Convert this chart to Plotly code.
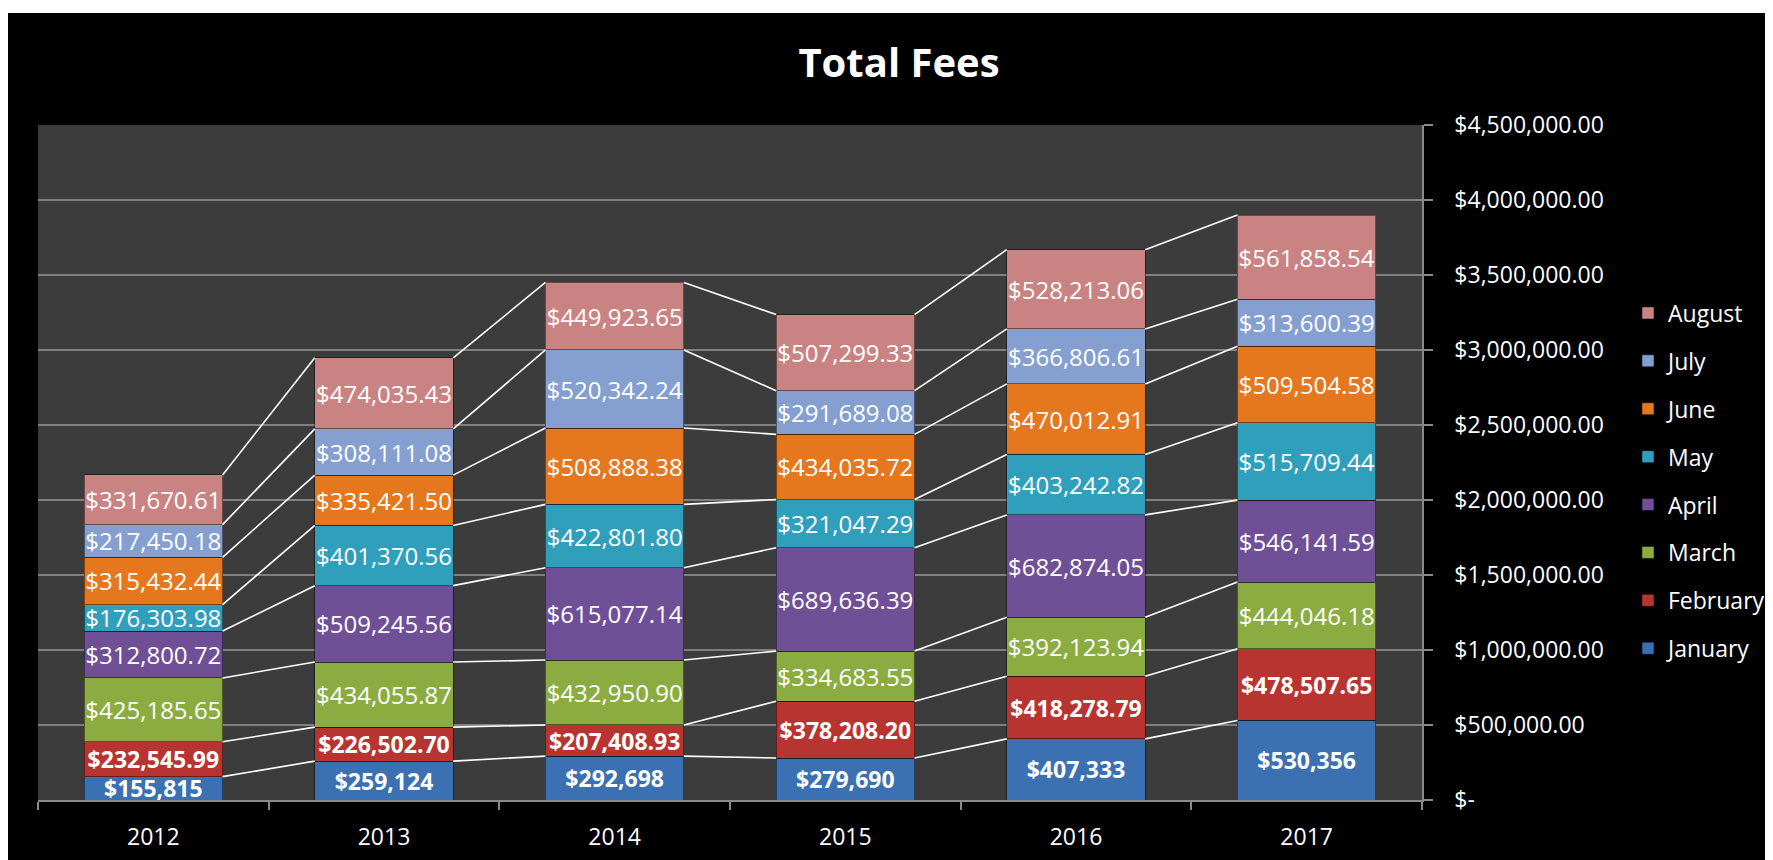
import plotly.graph_objects as go

years = ["2012", "2013", "2014", "2015", "2016", "2017"]
months = ["January", "February", "March", "April", "May", "June", "July", "August"]

january = [155815, 259124, 292698, 279690, 407333, 530356]
february = [232545.99, 226502.70, 207408.93, 378208.20, 418278.79, 478507.65]
march = [425185.65, 434055.87, 432950.90, 334683.55, 392123.94, 444046.18]
april = [312800.72, 509245.56, 615077.14, 689636.39, 682874.05, 546141.59]
may = [176303.98, 401370.56, 422801.80, 321047.29, 403242.82, 515709.44]
june = [315432.44, 335421.50, 508888.38, 434035.72, 470012.91, 509504.58]
july = [217450.18, 308111.08, 520342.24, 291689.08, 366806.61, 313600.39]
august = [331670.61, 474035.43, 449923.65, 507299.33, 528213.06, 561858.54]

series = [january, february, march, april, may, june, july, august]
colors = ["#3b70b2", "#b83431", "#8bac40", "#6f5097", "#2f9fbb", "#e5781f", "#849fd0", "#c98382"]

y_tickvals = [0, 500000, 1000000, 1500000, 2000000, 2500000, 3000000, 3500000, 4000000, 4500000]
y_ticktext = ["$-" if v == 0 else "${:,.2f}".format(v) for v in y_tickvals]

W, H = 1773, 860
# figure coordinates (page has an 8px body margin)
L, R, T, B = 30, 1773 - 1415, 117, 860 - 792
pw, ph = W - L - R, H - T - B

FONT = "Open Sans"
xs = list(range(len(years)))
bar_w = 0.6

fig = go.Figure()

n = len(months)
for k, (name, vals, col) in enumerate(zip(months, series, colors)):
    if k == 0:
        txt = ["${:,.0f}".format(v) for v in vals]
    else:
        txt = ["${:,.2f}".format(v) for v in vals]
    bold = k <= 1
    fig.add_trace(go.Bar(
        x=xs, y=vals, name=name, width=bar_w,
        marker=dict(color=col, line=dict(color="rgba(0,0,0,0.45)", width=1)),
        text=txt, textposition="inside", insidetextanchor="middle",
        constraintext="none",
        textfont=dict(family=FONT, size=24 if not bold else 23, color="white",
                      weight="bold" if bold else "normal"),
        legendgroup=name, legendrank=n - k,
        hoverinfo="skip",
    ))

# series lines connecting the tops of each segment
cum = [0.0] * len(years)
lx, ly = [], []
for vals in series:
    cum = [c + v for c, v in zip(cum, vals)]
    for i in range(len(years) - 1):
        lx += [xs[i] + bar_w / 2, xs[i + 1] - bar_w / 2, None]
        ly += [cum[i], cum[i + 1], None]
fig.add_trace(go.Scatter(x=lx, y=ly, mode="lines", line=dict(color="white", width=1.6),
                         showlegend=False, hoverinfo="skip"))

fig.update_layout(
    width=W, height=H,
    margin=dict(l=L, r=R, t=T, b=B),
    paper_bgcolor="black",
    plot_bgcolor="#3c3c3c",
    barmode="stack",
    title=dict(text="<b>Total Fees</b>", x=891 / W, xanchor="center", y=1 - 55 / H, yanchor="middle",
               font=dict(family=FONT, size=40, color="white")),
    legend=dict(
        x=1 + (1620 - 1415) / pw, xanchor="left",
        y=(792 - 473) / ph, yanchor="middle",
        traceorder="grouped", tracegroupgap=15,
        font=dict(family=FONT, size=23, color="white"),
        bgcolor="rgba(0,0,0,0)",
    ),
    xaxis=dict(
        range=[-0.5, len(years) - 0.5],
        tickmode="array", tickvals=xs, ticktext=years, ticks="",
        showgrid=False, zeroline=False, showline=True, linecolor="#8a8a8a", linewidth=1.5,
        tickfont=dict(family=FONT, size=23, color="white"),
        ticklabelstandoff=16,
        minor=dict(tickmode="linear", tick0=-0.5, dtick=1, ticks="outside", ticklen=8,
                   tickcolor="#8a8a8a", tickwidth=1.5, showgrid=False),
    ),
    yaxis=dict(
        side="right", range=[0, 4500000],
        tickmode="array", tickvals=y_tickvals, ticktext=y_ticktext,
        showgrid=True, gridcolor="#808080", gridwidth=1.5,
        zeroline=False, showline=True, linecolor="#8a8a8a", linewidth=1.5,
        ticks="outside", ticklen=9, tickcolor="#8a8a8a", tickwidth=1.5,
        tickfont=dict(family=FONT, size=23, color="white"),
        ticklabelstandoff=17,
    ),
    shapes=[
        dict(type="rect", xref="paper", yref="paper", layer="above",
             x0=-L / pw - 0.01, x1=(W - L) / pw + 0.01, y0=(H - B - 5) / ph, y1=(H - B) / ph + 0.01,
             fillcolor="white", line=dict(width=0)),
    ],
)

fig.write_html("out.html")
